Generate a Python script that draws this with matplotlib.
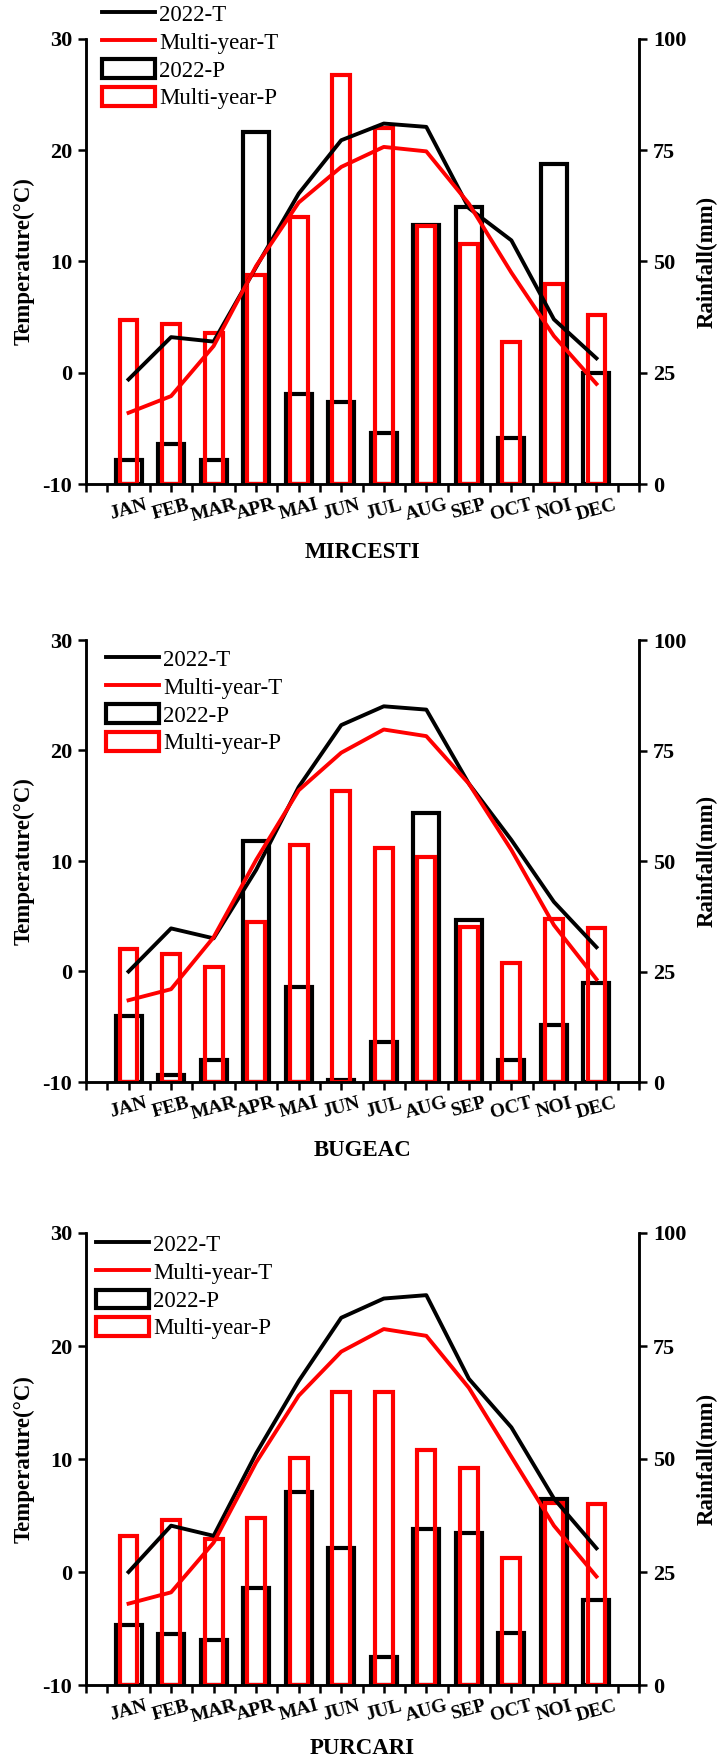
import numpy as np
import matplotlib
matplotlib.use("Agg")
import matplotlib.pyplot as plt

plt.rcParams['font.family'] = ['Liberation Serif', 'DejaVu Serif']
plt.rcParams['axes.unicode_minus'] = False

months = ['JAN', 'FEB', 'MAR', 'APR', 'MAI', 'JUN', 'JUL', 'AUG', 'SEP', 'OCT', 'NOI', 'DEC']
stations = ['MIRCESTI', 'BUGEAC', 'PURCARI']

# temperature (°C)
t2022_mircesti = [-0.6, 3.2, 2.8, 9.5, 16.1, 20.9, 22.4, 22.1, 14.8, 11.9, 4.8, 1.3]
tmulti_mircesti = [-3.6, -2.1, 2.4, 9.6, 15.3, 18.5, 20.3, 19.9, 15.2, 9.0, 3.3, -1.0]
t2022_bugeac = [0.0, 3.9, 3.0, 9.2, 16.7, 22.3, 24.0, 23.7, 17.0, 11.9, 6.3, 2.2]
tmulti_bugeac = [-2.6, -1.6, 3.1, 10.1, 16.4, 19.8, 21.9, 21.3, 17.0, 11.0, 4.2, -0.7]
t2022_purcari = [0.0, 4.1, 3.2, 10.5, 16.9, 22.5, 24.2, 24.5, 17.1, 12.8, 6.5, 2.1]
tmulti_purcari = [-2.8, -1.8, 2.6, 9.7, 15.6, 19.5, 21.5, 20.9, 16.3, 10.2, 4.1, -0.4]

# rainfall (mm)
p2022_mircesti = [5.5, 9.1, 5.5, 79.2, 20.2, 18.4, 11.4, 58.2, 62.3, 10.3, 72.0, 25.0]
pmulti_mircesti = [36.9, 36.0, 34.0, 46.9, 60.0, 91.8, 80.0, 57.9, 53.9, 31.8, 44.9, 38.0]
p2022_bugeac = [14.9, 1.5, 4.9, 54.6, 21.5, 0.4, 9.1, 60.9, 36.6, 4.9, 12.8, 22.3]
pmulti_bugeac = [30.0, 28.9, 26.0, 36.1, 53.7, 65.9, 53.0, 50.9, 35.1, 26.9, 36.8, 34.9]
p2022_purcari = [13.2, 11.2, 10.0, 21.5, 42.8, 30.3, 6.2, 34.6, 33.7, 11.5, 41.2, 18.9]
pmulti_purcari = [33.0, 36.5, 32.3, 37.0, 50.2, 64.9, 64.9, 52.1, 48.1, 28.0, 40.2, 40.0]

W, H = 717, 1760
fig = plt.figure(figsize=(W / 100, H / 100), dpi=100)

# axes boxes in pixels: top, bottom
boxes = [(39, 484), (640, 1082), (1233, 1685)]
left_px, right_px = 86, 639
legend_anchor = [(0.029, 1.079), (0.036, 0.980), (0.018, 0.998)]
name_offset = [68, 68, 63]

data = [
    (t2022_mircesti, tmulti_mircesti, p2022_mircesti, pmulti_mircesti),
    (t2022_bugeac, tmulti_bugeac, p2022_bugeac, pmulti_bugeac),
    (t2022_purcari, tmulti_purcari, p2022_purcari, pmulti_purcari),
]

x = np.arange(1, 13)
aw = right_px - left_px

for i, (t22, tm, p22, pm) in enumerate(data):
    top, bot = boxes[i]
    ax_t = fig.add_axes([left_px / W, 1 - bot / H, aw / W, (bot - top) / H])
    ax_p = ax_t.twinx()
    ax_t.set_zorder(ax_p.get_zorder() + 1)
    ax_t.patch.set_visible(False)

    b1 = ax_p.bar(x, p22, width=0.61, fill=False, edgecolor='black', linewidth=3.0, label='2022-P')
    b2 = ax_p.bar(x, pm, width=0.42, fill=False, edgecolor='#ff0000', linewidth=3.0, label='Multi-year-P')
    l1, = ax_t.plot(x, t22, color='black', linewidth=2.8, label='2022-T')
    l2, = ax_t.plot(x, tm, color='#ff0000', linewidth=2.8, label='Multi-year-T')

    ax_t.set_xlim(0, 13)
    ax_t.set_ylim(-10, 30)
    ax_p.set_ylim(0, 100)
    ax_t.set_yticks([-10, 0, 10, 20, 30])
    ax_p.set_yticks([0, 25, 50, 75, 100])
    ax_t.set_xticks(x)
    ax_t.set_xticks(np.arange(0, 13.01, 0.5), minor=True)
    ax_t.set_xticklabels(months, rotation=15, fontsize=14, fontweight='bold')

    for a in (ax_t, ax_p):
        a.spines['top'].set_visible(False)
        for s in ('left', 'right', 'bottom'):
            a.spines[s].set_linewidth(1.8)
    ax_t.tick_params(axis='y', direction='out', length=6, width=1.8, labelsize=16, pad=4)
    ax_t.tick_params(axis='x', which='both', direction='out', length=6, width=1.8, pad=3)
    ax_p.tick_params(axis='y', direction='out', length=6, width=1.8, labelsize=16, pad=4)
    for lab in ax_t.get_yticklabels() + ax_p.get_yticklabels():
        lab.set_fontweight('bold')

    ax_t.set_ylabel('Temperature(°C)', fontsize=16.5, fontweight='bold')
    ax_t.yaxis.set_label_coords(-62 / aw, 0.5)
    ax_t.yaxis.label.set_verticalalignment('center')
    ax_p.set_ylabel('Rainfall(mm)', fontsize=16.5, fontweight='bold', rotation=90)
    ax_p.yaxis.set_label_coords((707 - left_px) / aw, 0.5)
    ax_p.yaxis.label.set_verticalalignment('center')

    ax_t.text(0.5, -name_offset[i] / (bot - top), stations[i], transform=ax_t.transAxes,
              ha='center', va='center', fontsize=16.5, fontweight='bold')

    ax_t.legend([l1, l2, b1, b2], ['2022-T', 'Multi-year-T', '2022-P', 'Multi-year-P'],
                loc='upper left', bbox_to_anchor=legend_anchor[i], frameon=False,
                fontsize=16.5, borderpad=0, borderaxespad=0, handlelength=2.3,
                handleheight=0.85, labelspacing=0.25, handletextpad=0.2)

fig.savefig('out.png', dpi=100)
